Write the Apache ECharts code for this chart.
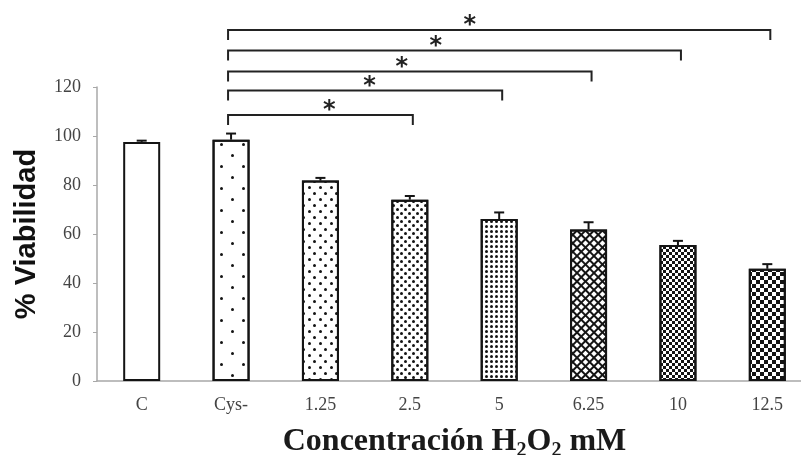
<!DOCTYPE html>
<html><head><meta charset="utf-8">
<script src="https://cdn.jsdelivr.net/npm/echarts@6/dist/echarts.min.js"></script>
<style>html,body{margin:0;padding:0;background:#fff}#c{width:801px;height:455px}</style>
</head><body><div id="c"></div>
<script>
// ---- data ----
const categories = ['C', 'Cys-', '1.25', '2.5', '5', '6.25', '10', '12.5'];
const viability = [97.6, 98.5, 81.8, 74.0, 66.1, 61.8, 55.5, 45.8];
const errors = [0.5, 2.5, 1.1, 1.5, 2.7, 3.0, 1.7, 1.9];
const yTicks = { min: 0, max: 120, step: 20 };
// significance brackets (category index from/to, height in axis units, star position in category units)
const bracketFrom = [1, 1, 1, 1, 1];
const bracketTo = [7, 6, 5, 4, 3];
const bracketLevel = [143.3, 134.9, 126.3, 118.6, 108.6];
const starPos = [3.67, 3.29, 2.91, 2.55, 2.10];
const starText = '*';

// ---- styles (fill patterns per bar) ----
const INK = '#141414';
const fills = [
  { color: '#fff' },
  { color: '#fff', decal: { symbol: 'circle', symbolSize: 1, color: INK, dashArrayX: [[3, 19], [0, 11, 3, 8]], dashArrayY: [3, 8] } },
  { color: '#fff', decal: { symbol: 'circle', symbolSize: 1, color: INK, dashArrayX: [[3, 8], [0, 5, 3, 3]], dashArrayY: [3, 3] } },
  { color: '#fff', decal: { symbol: 'circle', symbolSize: 1, color: INK, dashArrayX: [[3, 5], [0, 4, 3, 1]], dashArrayY: [3, 1] } },
  { color: '#fff', decal: { symbol: 'circle', symbolSize: 1, color: INK, dashArrayX: [3, 2], dashArrayY: [3, 2] } },
  { color: '#fff', decal: { symbol: 'rect', symbolSize: 1, color: INK, rotation: Math.PI / 4, dashArrayX: [[6, 0], [2, 4]], dashArrayY: [2, 0, 4, 0] } },
  { color: '#fff', decal: { symbol: 'rect', symbolSize: 1, color: INK, dashArrayX: [[3, 3], [0, 3, 3, 0]], dashArrayY: [3, 0] } },
  { color: '#fff', decal: { symbol: 'rect', symbolSize: 1, color: INK, dashArrayX: [[4, 4], [0, 4, 4, 0]], dashArrayY: [4, 0] } }
];

const chart = echarts.init(document.getElementById('c'), null, { renderer: 'canvas' });

const barData = viability.map((v, i) => ({
  value: v,
  itemStyle: Object.assign({ borderColor: INK, borderWidth: 2 }, fills[i])
}));

const errData = viability.map((v, i) => [i, v, errors[i]]);
const bracketData = bracketFrom.map((f, i) => [f, bracketLevel[i], bracketTo[i], starPos[i]]);

const option = {
  animation: false,
  backgroundColor: '#fff',
  grid: { left: 97, width: 715, top: 87, bottom: 74, containLabel: false, outerBoundsMode: 'none' },
  xAxis: {
    type: 'category',
    data: categories,
    axisLine: { lineStyle: { color: '#a8a8a8', width: 1.5 } },
    axisTick: { show: false },
    axisLabel: { margin: 15, fontFamily: 'Liberation Serif', fontSize: 18, color: '#444' },
    name: '{a|Concentración H}{s|2}{a|O}{s|2}{a| mM}',
    nameLocation: 'middle',
    nameGap: 45,
    nameTextStyle: {
      rich: {
        a: { fontFamily: 'Liberation Serif', fontSize: 32, fontWeight: 'bold', color: '#1a1a1a', lineHeight: 32 },
        s: { fontFamily: 'Liberation Serif', fontSize: 20, fontWeight: 'bold', color: '#1a1a1a', lineHeight: 20, padding: [18, 0, 0, 0] }
      }
    }
  },
  yAxis: {
    type: 'value',
    min: yTicks.min, max: yTicks.max, interval: yTicks.step,
    axisLine: { show: true, lineStyle: { color: '#a8a8a8', width: 1.5 } },
    axisTick: { show: true, length: 4, lineStyle: { color: '#a8a8a8' } },
    splitLine: { show: false },
    axisLabel: { margin: 16, fontFamily: 'Liberation Serif', fontSize: 18, color: '#444' },
    name: '% Viabilidad',
    nameLocation: 'middle',
    nameGap: 56,
    nameTextStyle: { fontFamily: 'Liberation Sans', fontWeight: 'bold', fontSize: 29, color: '#111' }
  },
  series: [
    {
      type: 'bar',
      data: barData,
      barWidth: 37,
      z: 2
    },
    {
      type: 'custom',
      data: errData,
      encode: { x: 0, y: 1 },
      z: 3,
      clip: false,
      renderItem: function (params, api) {
        const base = api.coord([api.value(0), api.value(1)]);
        const top = api.coord([api.value(0), api.value(1) + api.value(2)]);
        const style = { stroke: INK, lineWidth: 2 };
        return {
          type: 'group',
          children: [
            { type: 'line', shape: { x1: base[0], y1: base[1], x2: top[0], y2: top[1] }, style: style },
            { type: 'line', shape: { x1: top[0] - 5, y1: top[1], x2: top[0] + 5, y2: top[1] }, style: style }
          ]
        };
      }
    },
    {
      type: 'custom',
      data: bracketData,
      encode: { x: 0, y: 1 },
      z: 4,
      clip: false,
      renderItem: function (params, api) {
        const lvl = api.value(1);
        const a = api.coord([api.value(0), lvl]);
        const b = api.coord([api.value(2), lvl]);
        const p = api.value(3);
        const i0 = Math.floor(p);
        const c0 = api.coord([i0, lvl])[0];
        const c1 = api.coord([i0 + 1, lvl])[0];
        const sx = c0 + (p - i0) * (c1 - c0);
        const x1 = a[0] - 3, x2 = b[0] + 3, y = a[1];
        return {
          type: 'group',
          children: [
            { type: 'polyline', shape: { points: [[x1, y + 10], [x1, y], [x2, y], [x2, y + 10]] }, style: { stroke: '#222', lineWidth: 2, fill: null } },
            { type: 'text', x: sx, y: y - 4, style: { text: starText, fontFamily: 'DejaVu Sans', fontWeight: 'bold', fontSize: 24, fill: '#222', align: 'center', verticalAlign: 'middle' } }
          ]
        };
      }
    }
  ]
};
chart.setOption(option);
</script>
</body></html>
